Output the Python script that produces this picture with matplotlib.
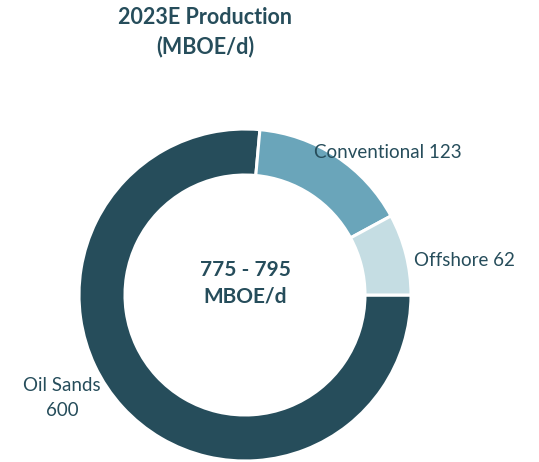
import matplotlib
matplotlib.use("Agg")
import matplotlib.pyplot as plt

categories = ["Oil Sands", "Conventional", "Offshore"]
values = [600, 123, 62]
labels = ["Oil Sands\n600", "Conventional 123", "Offshore 62"]
colors = ["#264d5b", "#6aa5ba", "#c5dde3"]
title = "2023E Production\n(MBOE/d)"
center_text = "775 - 795\nMBOE/d"
text_color = "#264d5b"

W, H = 539, 462
fig = plt.figure(figsize=(W / 100, H / 100), dpi=100)
ax = fig.add_axes([0, 0, 1, 1])

plt.rcParams["font.family"] = ["Lato", "DejaVu Sans"]

cx, cy, r = 245, H - 295, 166
ax.pie(values, colors=colors, startangle=0, counterclock=False,
       center=(cx, cy), radius=r, frame=True,
       wedgeprops=dict(width=46, edgecolor="white", linewidth=2.2))
ax.set_xlim(0, W)
ax.set_ylim(0, H)
ax.set_aspect("equal")
ax.axis("off")

ax.text(205, H - 32, title, ha="center", va="center", fontsize=15.5,
        fontweight="bold", color=text_color, linespacing=1.4, family=["Lato", "DejaVu Sans"])
ax.text(cx, H - 283, center_text, ha="center", va="center", fontsize=15,
        fontweight="bold", color=text_color, linespacing=1.4, family=["Lato", "DejaVu Sans"])

label_pos = [(62, H - 398), (388, H - 152), (464, H - 260)]
for lab, (x, y) in zip(labels, label_pos):
    ax.text(x, y, lab, ha="center", va="center", fontsize=13.5, color=text_color,
            linespacing=1.6, family=["Lato", "DejaVu Sans"])

fig.savefig("out.png", dpi=100, facecolor="white")
